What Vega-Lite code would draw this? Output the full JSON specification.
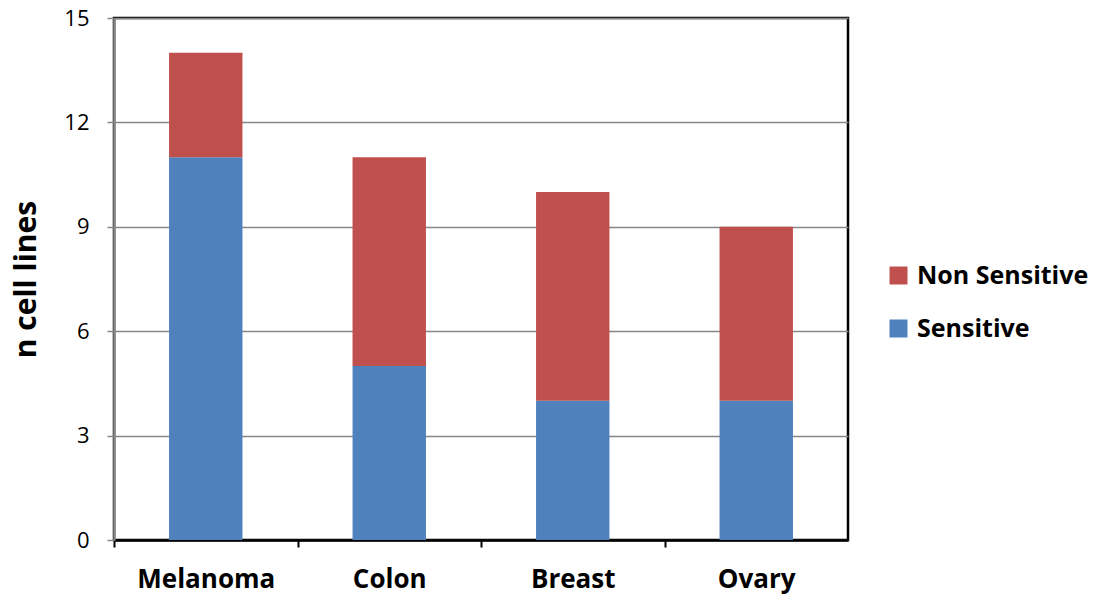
{
  "$schema": "https://vega.github.io/schema/vega-lite/v6.json",
  "autosize": {"type": "none"},
  "width": 734,
  "height": 522,
  "padding": {"left": 114, "top": 18, "right": 252, "bottom": 59},
  "background": "white",
  "config": {
    "font": "Open Sans",
    "view": {"stroke": "black", "strokeWidth": 2.5}
  },
  "data": {
    "values": [
      {"cancer": "Melanoma", "status": "Sensitive", "n": 11},
      {"cancer": "Melanoma", "status": "Non Sensitive", "n": 3},
      {"cancer": "Colon", "status": "Sensitive", "n": 5},
      {"cancer": "Colon", "status": "Non Sensitive", "n": 6},
      {"cancer": "Breast", "status": "Sensitive", "n": 4},
      {"cancer": "Breast", "status": "Non Sensitive", "n": 6},
      {"cancer": "Ovary", "status": "Sensitive", "n": 4},
      {"cancer": "Ovary", "status": "Non Sensitive", "n": 5}
    ]
  },
  "mark": {"type": "bar"},
  "encoding": {
    "x": {
      "field": "cancer",
      "type": "nominal",
      "sort": ["Melanoma", "Colon", "Breast", "Ovary"],
      "scale": {"paddingInner": 0.6, "paddingOuter": 0.3},
      "axis": {
        "title": null,
        "labelAngle": 0,
        "labelFont": "Open Sans",
        "labelFontSize": 26,
        "labelFontWeight": "bold",
        "labelColor": "black",
        "labelPadding": 19,
        "labelOffset": 91.75,
        "tickOffset": -91.75,
        "tickColor": "black",
        "tickWidth": 2,
        "tickSize": 7,
        "domainColor": "black",
        "domainWidth": 2.5
      }
    },
    "y": {
      "field": "n",
      "type": "quantitative",
      "aggregate": "sum",
      "stack": "zero",
      "scale": {"domain": [0, 15], "nice": false},
      "axis": {
        "title": "n cell lines",
        "titleFont": "Open Sans",
        "titleFontSize": 30,
        "titleFontWeight": "bold",
        "titleColor": "black",
        "titlePadding": 22,
        "values": [0, 3, 6, 9, 12, 15],
        "labelFont": "Open Sans",
        "labelFontSize": 22,
        "labelColor": "black",
        "labelPadding": 18,
        "grid": true,
        "gridColor": "#868686",
        "gridWidth": 1.5,
        "tickColor": "#868686",
        "tickWidth": 1.5,
        "tickSize": 7,
        "domainColor": "#868686",
        "domainWidth": 2.5
      }
    },
    "color": {
      "field": "status",
      "type": "nominal",
      "scale": {"domain": ["Non Sensitive", "Sensitive"], "range": ["#C0504D", "#4F81BD"]},
      "legend": {
        "title": null,
        "orient": "none",
        "legendX": 772,
        "legendY": 245,
        "symbolType": "square",
        "symbolSize": 324,
        "symbolStrokeWidth": 0,
        "labelFont": "Open Sans",
        "labelFontSize": 25,
        "labelFontWeight": "bold",
        "labelColor": "black",
        "labelOffset": 6,
        "rowPadding": 27,
        "labelLimit": 300
      }
    },
    "order": {"field": "status", "sort": "descending"}
  }
}
